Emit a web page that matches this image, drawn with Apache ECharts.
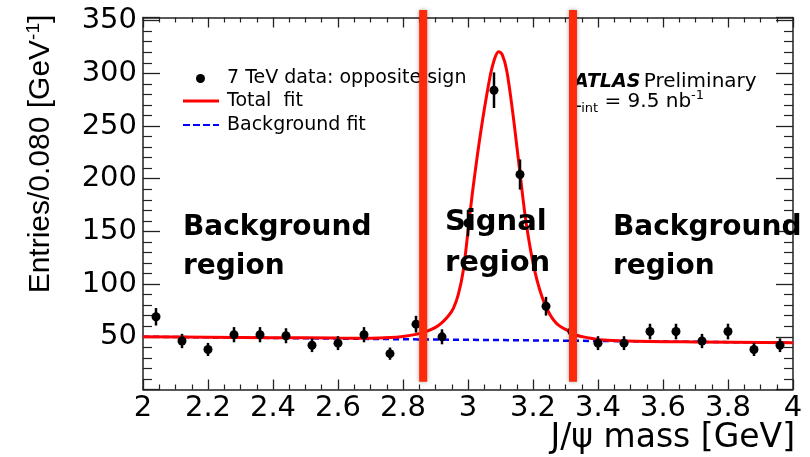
<!DOCTYPE html>
<html><head><meta charset="utf-8">
<script src="https://cdn.jsdelivr.net/npm/echarts@6/dist/echarts.min.js"></script>
<style>html,body{margin:0;padding:0;background:#fff}#c{width:810px;height:457px}</style>
</head><body><div id="c"></div>
<script>
// ---- data ----
const binCenters = [2.04,2.12,2.20,2.28,2.36,2.44,2.52,2.60,2.68,2.76,2.84,2.92,3.00,3.08,3.16,3.24,3.32,3.40,3.48,3.56,3.64,3.72,3.80,3.88,3.96];
const entries    = [69,46,38,52,52,51,42,44,52,34,62,50,158,284,204,79,55,44,44,55,55,46,55,38,42];
const errors     = [8.3,6.8,6.2,7.2,7.2,7.1,6.5,6.6,7.2,5.8,7.9,7.1,12.6,16.9,14.3,8.9,7.4,6.6,6.6,7.4,7.4,6.8,7.4,6.2,6.5];

const fitX = [2.00,2.20,2.40,2.60,2.70,2.76,2.80,2.84,2.87,2.90,2.92,2.94,2.955,2.97,2.985,3.00,3.015,3.04,3.066,3.08,3.094,3.105,3.119,3.138,3.159,3.179,3.205,3.235,3.271,3.312,3.332,3.37,3.404,3.486,3.70,4.00];
const fitY = [50.1,49.6,49.2,48.8,48.7,49.3,50.4,52.3,54.9,59,63.5,70,77,90,112,150,190,246,294,312,320.6,318,303,262,208,158,113,82,63,55,51.7,49,47.3,46,45.1,44.4];

const bkgX = [2.0,2.4,2.8,3.2,3.6,4.0];
const bkgY = [50.1,48.9,47.7,46.6,45.5,44.4];

const regionEdges = [2.862, 3.323];
const regionBarSpan = [7.4, 360];

const xRange = [2, 4], xStep = 0.2;
const yRange = [0, 353], yStep = 50;

const seriesNames = ['7 TeV data: opposite sign', 'Total  fit', 'Background fit'];

// ---- chart ----
const chart = echarts.init(document.getElementById('c'), null, {renderer: 'canvas'});
const numFont = '"DejaVu Sans"';
const axisCol = '#222';

function xAx(pos, labels) {
  return {
    type: 'value', position: pos, min: xRange[0], max: xRange[1], interval: xStep,
    axisLine: {show: true, onZero: false, lineStyle: {color: axisCol, width: 1.5}},
    axisTick: {show: true, inside: true, length: 10, lineStyle: {color: axisCol, width: 1.3}},
    minorTick: {show: true, splitNumber: 4, length: 5, lineStyle: {color: axisCol, width: 1.2}},
    splitLine: {show: false}, minorSplitLine: {show: false},
    axisLabel: {show: labels, showMinLabel: true, showMaxLabel: true, margin: 4,
      fontFamily: numFont, fontSize: 29, color: '#000',
      formatter: v => String(Math.round(v * 10) / 10)}
  };
}
function yAx(pos, labels) {
  return {
    type: 'value', position: pos, min: yRange[0], max: yRange[1], interval: yStep,
    axisLine: {show: true, onZero: false, lineStyle: {color: axisCol, width: 1.5}},
    axisTick: {show: true, inside: true, length: 17, lineStyle: {color: axisCol, width: 1.3}},
    minorTick: {show: true, splitNumber: 5, length: 9, lineStyle: {color: axisCol, width: 1.2}},
    splitLine: {show: false}, minorSplitLine: {show: false},
    axisLabel: {show: labels, showMinLabel: false, showMaxLabel: false, margin: 6,
      fontFamily: numFont, fontSize: 29, color: '#000',
      formatter: v => (v % 50 === 0 && v > 0 ? String(v) : '')}
  };
}

const errData = binCenters.map((x, i) => [x, entries[i] - errors[i], entries[i] + errors[i]]);
const ptsData = binCenters.map((x, i) => [x, entries[i]]);

const legText = {fontFamily: numFont, fontSize: 19, color: '#000'};
const dashIcon = 'path://M0,0h7v2h-7zM10,0h7v2h-7zM20,0h7v2h-7zM30,0h6v2h-6z';

const option = {
  animation: false,
  backgroundColor: '#fff',
  grid: {left: 143, right: 17, top: 17.5, bottom: 67.5, containLabel: false},
  xAxis: [xAx('bottom', true), xAx('top', false)],
  yAxis: [yAx('left', true), yAx('right', false)],
  legend: [
    {data: [{name: seriesNames[0], icon: 'circle'}], left: 196, top: 69, padding: 0, itemWidth: 9, itemHeight: 9,
     selectedMode: false, textStyle: Object.assign({padding: [0, 0, 0, 17]}, legText)},
    {data: [{name: seriesNames[1], icon: 'rect'}], left: 183, top: 91.5, padding: 0, itemWidth: 36, itemHeight: 3,
     selectedMode: false, textStyle: Object.assign({padding: [0, 0, 0, 3]}, legText)},
    {data: [{name: seriesNames[2], icon: dashIcon}], left: 183, top: 115.5, padding: 0, itemWidth: 36, itemHeight: 2.5,
     selectedMode: false, textStyle: Object.assign({padding: [0, 0, 0, 3]}, legText)}
  ],
  series: [
    {name: seriesNames[2], type: 'line', data: bkgX.map((x, i) => [x, bkgY[i]]),
     symbol: 'none', z: 3, lineStyle: {color: '#0000ff', width: 2.5, type: [6, 4]},
     itemStyle: {color: '#0000ff'}},
    {name: seriesNames[1], type: 'line', data: fitX.map((x, i) => [x, fitY[i]]),
     symbol: 'none', smooth: 0.35, z: 4, lineStyle: {color: '#ff0000', width: 3},
     itemStyle: {color: '#ff0000'}},
    {type: 'custom', z: 5, data: errData, silent: true,
     renderItem: (params, api) => {
       const p1 = api.coord([api.value(0), api.value(1)]);
       const p2 = api.coord([api.value(0), api.value(2)]);
       return {type: 'line', shape: {x1: p1[0], y1: p1[1], x2: p2[0], y2: p2[1]},
               style: {stroke: '#000', lineWidth: 2.5}};
     }},
    {name: seriesNames[0], type: 'scatter', data: ptsData, symbol: 'circle', symbolSize: 9, z: 6,
     itemStyle: {color: '#000', opacity: 1}},
    ...regionEdges.map(x => ({
      type: 'line', data: [[x, regionBarSpan[0]], [x, regionBarSpan[1]]], symbol: 'none',
      clip: false, silent: true, z: 20,
      lineStyle: {color: '#ff2a0a', width: 8, cap: 'butt', shadowColor: 'rgba(0,0,0,0.35)', shadowBlur: 4}
    }))
  ],
  graphic: [
    {type: 'text', x: 41, y: 154, rotation: Math.PI / 2, z: 10,
     style: {text: '{a|Entries/0.080 [GeV}{s|-1}{a|]}', align: 'center', verticalAlign: 'middle',
       rich: {a: {fontFamily: '"Liberation Sans"', fontSize: 30, lineHeight: 34, fill: '#000', verticalAlign: 'middle'},
              s: {fontFamily: '"Liberation Sans"', fontSize: 19, lineHeight: 34, fill: '#000', verticalAlign: 'top'}}}},
    {type: 'text', x: 795, y: 438, z: 10,
     style: {text: 'J/ψ mass [GeV]', align: 'right', verticalAlign: 'middle',
       font: '33px "DejaVu Sans"', fill: '#000'}},
    {type: 'text', x: 183, y: 247, z: 10,
     style: {text: 'Background\nregion', align: 'left', verticalAlign: 'middle', lineHeight: 39,
       font: 'bold 28px "DejaVu Sans"', fill: '#000'}},
    {type: 'text', x: 613, y: 247, z: 10,
     style: {text: 'Background\nregion', align: 'left', verticalAlign: 'middle', lineHeight: 39,
       font: 'bold 28px "DejaVu Sans"', fill: '#000'}},
    {type: 'text', x: 445, y: 243, z: 10,
     style: {text: 'Signal\nregion', align: 'left', verticalAlign: 'middle', lineHeight: 41,
       font: 'bold 29px "DejaVu Sans"', fill: '#000'}},
    {type: 'text', x: 574, y: 82, z: 10,
     style: {text: '{b|ATLAS} {n|Preliminary}', align: 'left', verticalAlign: 'middle',
       rich: {b: {fontFamily: numFont, fontWeight: 'bold', fontStyle: 'italic', fontSize: 19, fill: '#000'},
              n: {fontFamily: numFont, fontSize: 20, fill: '#000'}}}},
    {type: 'text', x: 570, y: 102, z: 10,
     style: {text: '{n|L}{sub|int}{n| = 9.5 nb}{sup|-1}', align: 'left', verticalAlign: 'middle',
       rich: {n: {fontFamily: numFont, fontSize: 20, lineHeight: 26, fill: '#000', verticalAlign: 'middle'},
              sub: {fontFamily: numFont, fontSize: 13, lineHeight: 26, fill: '#000', verticalAlign: 'bottom'},
              sup: {fontFamily: numFont, fontSize: 13, lineHeight: 26, fill: '#000', verticalAlign: 'top'}}}}
  ]
};
chart.setOption(option);
</script>
</body></html>
